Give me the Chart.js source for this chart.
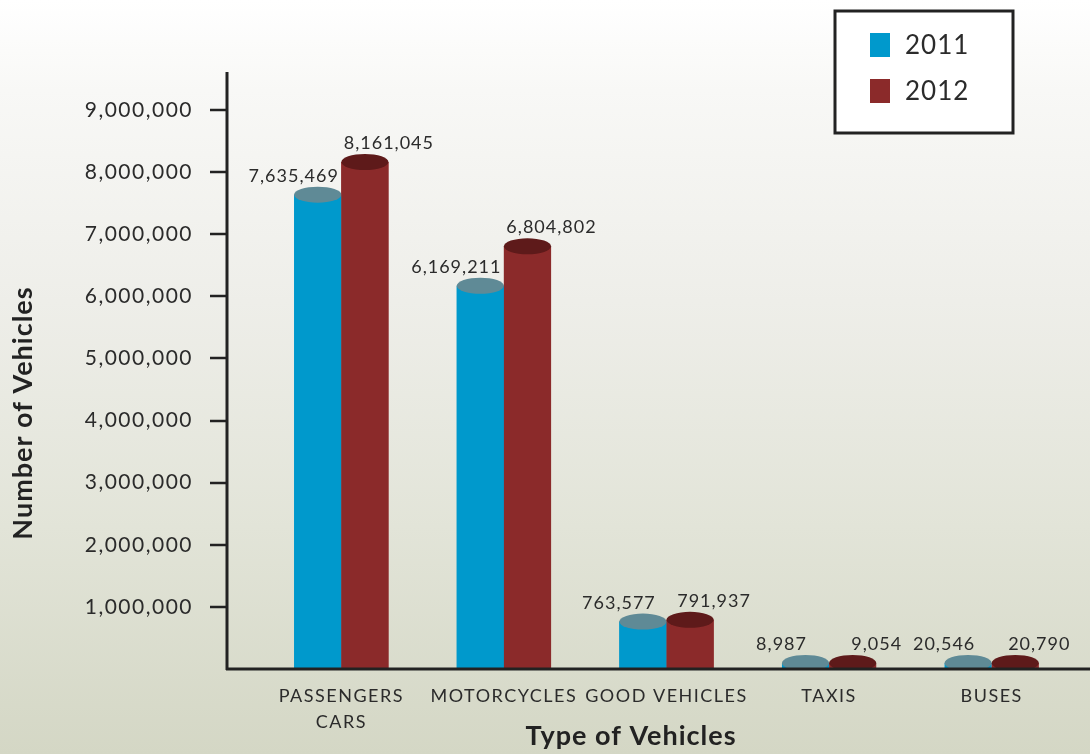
<!DOCTYPE html>
<html>
<head>
<meta charset="utf-8">
<title>Number of Vehicles by Type</title>
<script src="https://cdn.jsdelivr.net/npm/chart.js@4.4.1/dist/chart.umd.min.js"></script>
<style>
  html, body { margin: 0; padding: 0; }
  body {
    width: 1090px;
    height: 754px;
    overflow: hidden;
    background: linear-gradient(to bottom, #ffffff 0%, #f8f8f6 12%, #eeeee9 40%, #e2e4d8 70%, #d4d7c5 100%);
  }
  canvas { display: block; }
</style>
</head>
<body>
<canvas id="chart" width="1090" height="754"></canvas>
<script>
const categories = [['PASSENGERS', 'CARS'], 'MOTORCYCLES', 'GOOD VEHICLES', 'TAXIS', 'BUSES'];
const years = ['2011', '2012'];
const vehicles2011 = [7635469, 6169211, 763577, 8987, 20546];
const vehicles2012 = [8161045, 6804802, 791937, 9054, 20790];
const yTicks = [1000000, 2000000, 3000000, 4000000, 5000000, 6000000, 7000000, 8000000, 9000000];

const FONT = 'Lato, "Open Sans", sans-serif';
const TEXT = '#2b2b2b';
const barColors = ['#0099cc', '#8b2a2a'];
const capColors = ['#5f8a96', '#5e1a1a'];
const AXIS_X = 227;

const fmt = v => v.toLocaleString('en-US');

// cylinder tops, value labels, axis lines, legend box and axis titles
const cylinderPlugin = {
  id: 'cylinders',
  beforeDraw(chart) {
    chart.ctx.letterSpacing = '1.5px';
  },
  afterDatasetsDraw(chart) {
    const { ctx, chartArea } = chart;
    const ry = 8;

    chart.data.datasets.forEach((ds, di) => {
      const meta = chart.getDatasetMeta(di);
      meta.data.forEach((bar, i) => {
        const { x, y, base, width } = bar.getProps(['x', 'y', 'base', 'width'], true);
        const cy = Math.min(y, base - 6);
        ctx.save();
        ctx.beginPath();
        ctx.rect(0, 0, chart.width, base);
        ctx.clip();
        ctx.fillStyle = barColors[di];
        ctx.fillRect(x - width / 2, cy, width, base - cy);
        ctx.beginPath();
        ctx.ellipse(x, cy, width / 2, ry, 0, 0, Math.PI * 2);
        ctx.fillStyle = capColors[di];
        ctx.fill();
        ctx.restore();

        ctx.save();
        ctx.font = '18px ' + FONT;
        ctx.letterSpacing = '1px';
        ctx.fillStyle = TEXT;
        ctx.textAlign = 'center';
        ctx.textBaseline = 'alphabetic';
        const shift = di === 0 ? -24 : 24;
        ctx.fillText(fmt(ds.data[i]), x + shift, cy - ry - 5);
        ctx.restore();
      });
    });

    // axis lines and tick marks
    const yScale = chart.scales.y;
    ctx.save();
    ctx.strokeStyle = '#222';
    ctx.lineWidth = 3;
    ctx.beginPath();
    ctx.moveTo(AXIS_X, chartArea.top);
    ctx.lineTo(AXIS_X, chartArea.bottom + 1);
    ctx.moveTo(AXIS_X - 1, chartArea.bottom);
    ctx.lineTo(chart.width, chartArea.bottom);
    ctx.stroke();
    ctx.lineWidth = 2.5;
    yTicks.forEach(v => {
      const py = Math.round(yScale.getPixelForValue(v));
      ctx.beginPath();
      ctx.moveTo(AXIS_X - 17, py);
      ctx.lineTo(AXIS_X, py);
      ctx.stroke();
    });
    ctx.restore();
  },
  afterDraw(chart) {
    const { ctx } = chart;
    ctx.save();
    ctx.letterSpacing = '0px';

    // legend
    ctx.fillStyle = '#ffffff';
    ctx.fillRect(835, 11, 178, 122);
    ctx.strokeStyle = '#222';
    ctx.lineWidth = 3;
    ctx.strokeRect(835, 11, 178, 122);
    chart.data.datasets.forEach((ds, di) => {
      const top = 33 + di * 46;
      ctx.fillStyle = barColors[di];
      ctx.fillRect(870, top, 20, 24);
      ctx.fillStyle = TEXT;
      ctx.font = '26px ' + FONT;
      ctx.letterSpacing = '1px';
      ctx.textAlign = 'left';
      ctx.textBaseline = 'middle';
      ctx.fillText(ds.label, 905, top + 13);
    });

    // axis titles
    ctx.letterSpacing = '1px';
    ctx.fillStyle = '#222';
    ctx.font = 'bold 27px ' + FONT;
    ctx.textAlign = 'center';
    ctx.textBaseline = 'alphabetic';
    ctx.fillText('Type of Vehicles', 631, 745);
    ctx.translate(32, 413);
    ctx.rotate(-Math.PI / 2);
    ctx.fillText('Number of Vehicles', 0, 0);
    ctx.restore();
  }
};

new Chart(document.getElementById('chart'), {
  type: 'bar',
  data: {
    labels: categories,
    datasets: [
      { label: years[0], data: vehicles2011, backgroundColor: barColors[0] },
      { label: years[1], data: vehicles2012, backgroundColor: barColors[1] }
    ]
  },
  options: {
    responsive: false,
    animation: false,
    layout: { padding: { top: 72, right: 17, left: 0, bottom: 0 } },
    datasets: {
      bar: { categoryPercentage: 0.58, barPercentage: 1 }
    },
    plugins: {
      legend: { display: false },
      tooltip: { enabled: false }
    },
    scales: {
      x: {
        grid: { display: false, drawTicks: false },
        border: { display: false },
        afterFit: s => { s.height = 85; },
        ticks: {
          padding: 15,
          color: TEXT,
          font: { family: FONT, size: 18, lineHeight: 1.4 },
          maxRotation: 0,
          autoSkip: false
        }
      },
      y: {
        min: 0,
        max: 9610000,
        afterFit: s => {
          // the wide label gap should not also pad the top and bottom
          s.width = 260;
          s.paddingTop = 0;
          s.paddingBottom = 0;
        },
        afterBuildTicks: s => { s.ticks = yTicks.map(v => ({ value: v })); },
        grid: { display: false, drawTicks: false, tickLength: 0 },
        border: { display: false },
        ticks: {
          padding: 67,
          color: TEXT,
          font: { family: FONT, size: 21 },
          callback: v => fmt(v)
        }
      }
    }
  },
  plugins: [cylinderPlugin]
});
</script>
</body>
</html>
